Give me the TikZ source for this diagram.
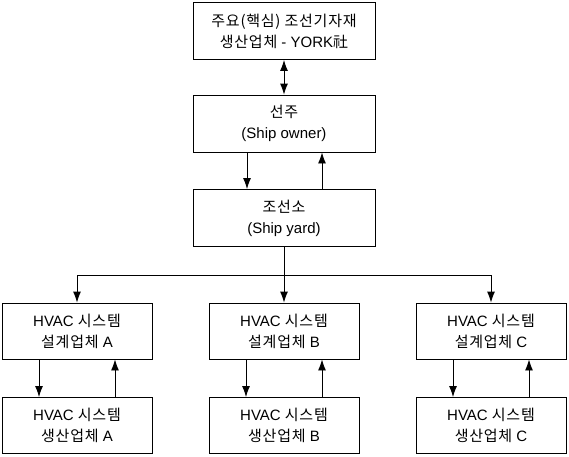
\documentclass[tikz,border=0pt]{standalone}
\usepackage{fontspec}
\setmainfont{Liberation Sans}
\newfontfamily\krfont[LetterSpace=5]{Noto Sans CJK KR}
\newcommand{\ko}[1]{{\krfont #1}}
\usetikzlibrary{arrows.meta}

\begin{document}
\begin{tikzpicture}[x=1pt, y=-1pt, line width=0.9pt, >={Latex[length=11pt,width=8pt]},
        every node/.style={draw, rectangle, align=center, inner sep=0pt, font=\fontsize{15}{21}\selectfont},
        bigbox/.style={minimum width=182pt, minimum height=57pt},
        smallbox/.style={minimum width=150pt, minimum height=56pt}]

        \useasboundingbox (0,0) rectangle (569,456);

        % Blocchi centrali
        \node[bigbox] (york) at (284,31) {\ko{주요(핵심) 조선기자재}\\\ko{생산업체} - YORK\ko{社}};
        \node[bigbox] (owner) at (284,123.5) {\ko{선주}\\(Ship owner)};
        \node[bigbox] (yard) at (284,218) {\ko{조선소}\\(Ship yard)};
        \coordinate (split) at (284,275);

        % Colonne HVAC
        \node[smallbox] (desA) at (77,331) {HVAC \ko{시스템}\\\ko{설계업체} A};
        \node[smallbox] (desB) at (284,331) {HVAC \ko{시스템}\\\ko{설계업체} B};
        \node[smallbox] (desC) at (491,331) {HVAC \ko{시스템}\\\ko{설계업체} C};
        \node[smallbox] (prodA) at (77,425.5) {HVAC \ko{시스템}\\\ko{생산업체} A};
        \node[smallbox] (prodB) at (284,425.5) {HVAC \ko{시스템}\\\ko{생산업체} B};
        \node[smallbox] (prodC) at (491,425.5) {HVAC \ko{시스템}\\\ko{생산업체} C};

        % Archi
        \draw[<->] (york) -- (owner);
        \draw[->] ([xshift=-37pt]owner.south) -- ([xshift=-37pt]yard.north);
        \draw[<-] ([xshift=38pt]owner.south) -- ([xshift=38pt]yard.north);
        \draw (yard) -- (split);
        \draw[->] (split) -| (desA);
        \draw[->] (split) -- (desB);
        \draw[->] (split) -| (desC);
        \draw[->] ([xshift=-38pt]desA.south) -- ([xshift=-38pt]prodA.north);
        \draw[<-] ([xshift=38pt]desA.south) -- ([xshift=38pt]prodA.north);
        \draw[->] ([xshift=-38pt]desB.south) -- ([xshift=-38pt]prodB.north);
        \draw[<-] ([xshift=38pt]desB.south) -- ([xshift=38pt]prodB.north);
        \draw[->] ([xshift=-38pt]desC.south) -- ([xshift=-38pt]prodC.north);
        \draw[<-] ([xshift=38pt]desC.south) -- ([xshift=38pt]prodC.north);
\end{tikzpicture}
\end{document}
